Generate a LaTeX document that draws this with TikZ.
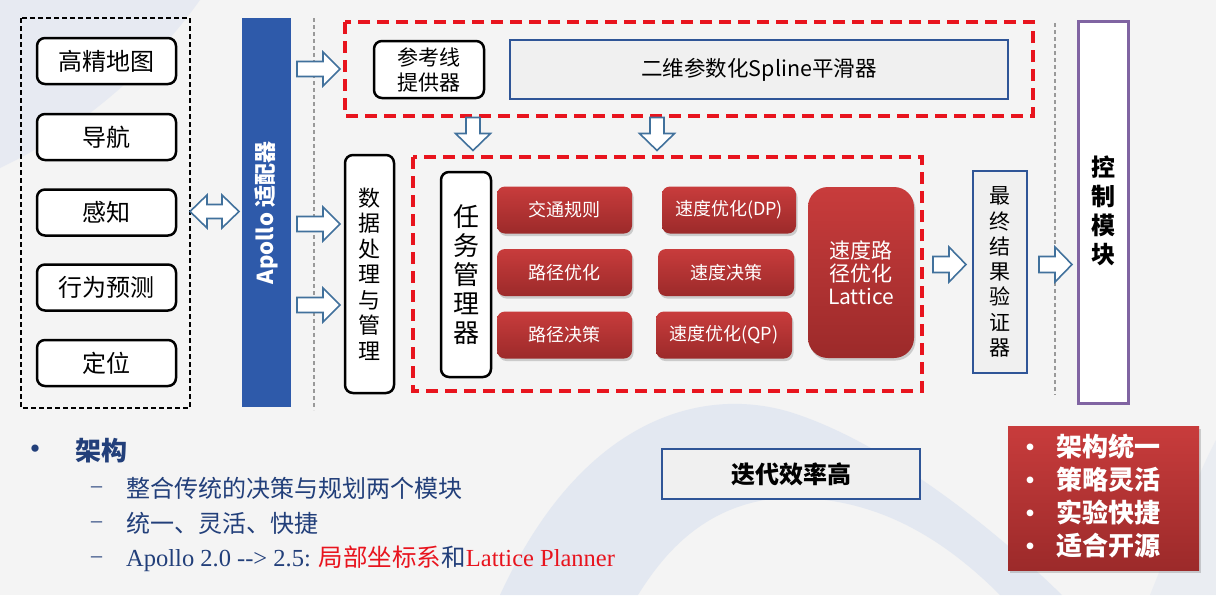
\documentclass[tikz,border=0pt]{standalone}
\usepackage{fontspec}
\usetikzlibrary{shadows,calc}
\newfontfamily\cjk{Noto Sans CJK SC}
\newfontfamily\tnr{Liberation Serif}
\definecolor{bgc}{HTML}{F4F4F4}
\definecolor{bgblue}{HTML}{D8E0F0}
\definecolor{apblue}{HTML}{2E5AAA}
\definecolor{arrblue}{HTML}{41719C}
\definecolor{boxblue}{HTML}{2F5597}
\definecolor{dashred}{HTML}{E8141E}
\definecolor{redtop}{HTML}{C83C3C}
\definecolor{redbot}{HTML}{9C2A2A}
\definecolor{ctrlpurple}{HTML}{8064A2}
\definecolor{txtblue}{HTML}{223F7A}
\definecolor{txtred}{HTML}{E8141E}
\definecolor{lightfill}{HTML}{F0F0F0}
\tikzset{
  blackbox/.style={draw=black, line width=2.5pt, rounded corners=8pt, fill=white, inner sep=0pt, align=center},
  bluebox/.style={draw=boxblue, line width=1.5pt, fill=lightfill, inner sep=0pt, align=center},
  redbox/.style={rounded corners=8pt, top color=redtop, bottom color=redbot, draw=none,
     drop shadow={shadow xshift=1.5pt, shadow yshift=-2.5pt, opacity=.35}, text=white, inner sep=0pt, align=center,
     font=\cjk\fontsize{18}{23}\selectfont},
  reddash/.style={draw=dashred, line width=4pt, dash pattern=on 12pt off 7pt},
  greydash/.style={draw=gray!80, line width=1.3pt, dash pattern=on 4pt off 3pt},
  arrowline/.style={draw=arrblue, fill=white, line width=1.6pt, line join=miter},
}
% right-pointing block arrow: centre x, centre y, length, head width, shaft width, head length
\newcommand{\RArrow}[6]{%
  \draw[arrowline] (#1-#3/2,#2-#5/2) -- (#1+#3/2-#6,#2-#5/2) -- (#1+#3/2-#6,#2-#4/2) -- (#1+#3/2,#2)
     -- (#1+#3/2-#6,#2+#4/2) -- (#1+#3/2-#6,#2+#5/2) -- (#1-#3/2,#2+#5/2) -- cycle;}
% down-pointing block arrow
\newcommand{\DArrow}[6]{%
  \draw[arrowline] (#1-#5/2,#2-#3/2) -- (#1-#5/2,#2+#3/2-#6) -- (#1-#4/2,#2+#3/2-#6) -- (#1,#2+#3/2)
     -- (#1+#4/2,#2+#3/2-#6) -- (#1+#5/2,#2+#3/2-#6) -- (#1+#5/2,#2-#3/2) -- cycle;}
% double block arrow (left-right)
\newcommand{\LRArrow}[6]{%
  \draw[arrowline] (#1-#3/2,#2) -- (#1-#3/2+#6,#2-#4/2) -- (#1-#3/2+#6,#2-#5/2) -- (#1+#3/2-#6,#2-#5/2)
     -- (#1+#3/2-#6,#2-#4/2) -- (#1+#3/2,#2) -- (#1+#3/2-#6,#2+#4/2) -- (#1+#3/2-#6,#2+#5/2)
     -- (#1-#3/2+#6,#2+#5/2) -- (#1-#3/2+#6,#2+#4/2) -- cycle;}
\begin{document}
\begin{tikzpicture}[x=1pt,y=-1pt]
\useasboundingbox (0,0) rectangle (1216,595);
% background
\fill[bgc] (0,0) rectangle (1216,595);
\fill[bgblue, opacity=.45] (0,0) -- (200,0) .. controls (150,70) and (80,130) .. (0,168) -- cycle;
\fill[bgblue, opacity=.6] (500,595) .. controls (580,420) and (700,385) .. (790,412)
   .. controls (880,440) and (985,520) .. (1062,595) -- (1000,595)
   .. controls (930,525) and (860,495) .. (780,498) .. controls (700,505) and (660,560) .. (638,595) -- cycle;
\fill[bgblue, opacity=.35] (1150,595) .. controls (1180,520) and (1200,470) .. (1216,440) -- (1216,595) -- cycle;

% left group
\draw[black, line width=1.8pt, dash pattern=on 5pt off 3pt] (21,18) rectangle (190,408);
\begin{scope}[every node/.style={blackbox, minimum width=139pt, minimum height=46pt, font=\cjk\fontsize{24}{28}\selectfont}]
\node (map) at (106.5,61) {高精地图};
\node (nav) at (106.5,137) {导航};
\node (per) at (106.5,212.5) {感知};
\node (pred) at (106.5,287.5) {行为预测};
\node (loc) at (106.5,363) {定位};
\end{scope}

% apollo adapter
\node[fill=apblue, minimum width=49pt, minimum height=389pt, inner sep=0pt] (bar) at (266.5,212.5) {};
\node[rotate=90, text=white, font=\cjk\bfseries\fontsize{22}{26}\selectfont] (apollo) at (266.5,213) {Apollo 适配器};
\coordinate (dba) at (214.5,211.5);
\LRArrow{214.5}{211.5}{49}{33}{14}{17}

\draw[greydash] (314,18) -- (314,410);
\draw[greydash] (1055,23) -- (1055,395);

% arrows from adapter
\coordinate (a1) at (318.5,69);
\coordinate (a2) at (318.5,224);
\coordinate (a3) at (318.5,305);
\RArrow{318.5}{69}{43}{34}{15}{17}
\RArrow{318.5}{224}{43}{34}{15}{17}
\RArrow{318.5}{305}{43}{34}{15}{17}

% top red group
\draw[reddash] (345,22) rectangle (1033,116);
\node[blackbox, minimum width=110pt, minimum height=57pt, font=\cjk\fontsize{21}{25}\selectfont] (ref) at (429,69.5) {参考线\\提供器};
\node[bluebox, minimum width=498pt, minimum height=59pt, font=\cjk\fontsize{21.5}{25}\selectfont] (spline) at (759,69.5) {二维参数化Spline平滑器};

\coordinate (d1) at (473,134);
\coordinate (d2) at (657,134);
\DArrow{473}{134}{33}{35}{14}{17}
\DArrow{657}{134}{33}{35}{14}{17}

% data processing
\node[blackbox, minimum width=49pt, minimum height=238pt, font=\cjk\fontsize{22}{25.5}\selectfont] (data) at (369.5,274) {数\\据\\处\\理\\与\\管\\理};

% middle red group
\draw[reddash] (413,157) rectangle (922,391);
\node[blackbox, minimum width=50pt, minimum height=205pt, font=\cjk\fontsize{26}{29}\selectfont] (task) at (466,274.5) {任\\务\\管\\理\\器};

\node[redbox, minimum width=135pt, minimum height=47pt] (r1) at (564.5,210) {交通规则};
\node[redbox, minimum width=135pt, minimum height=47pt] (r2) at (564.5,272.5) {路径优化};
\node[redbox, minimum width=135pt, minimum height=47pt] (r3) at (564.5,335) {路径决策};
\node[redbox, minimum width=134pt, minimum height=47pt] (s1) at (729,210) {速度优化(DP)};
\node[redbox, minimum width=136pt, minimum height=47pt] (s2) at (726,272.5) {速度决策};
\node[redbox, minimum width=136pt, minimum height=47pt] (s3) at (724,335) {速度优化(QP)};
\node[redbox, rounded corners=20pt, minimum width=106pt, minimum height=171pt, font=\cjk\fontsize{21}{23}\selectfont] (lat) at (861,272.5) {速度路\\径优化\\Lattice};

\coordinate (a4) at (949.5,264.5);
\RArrow{949.5}{264.5}{33}{35}{16}{17}
\node[bluebox, minimum width=54pt, minimum height=202pt, font=\cjk\fontsize{21}{25.3}\selectfont] (ver) at (1000,272) {最\\终\\结\\果\\验\\证\\器};
\coordinate (a5) at (1055.5,264.5);
\RArrow{1055.5}{264.5}{33}{35}{16}{17}

% control module
\node[draw=ctrlpurple, line width=3.5pt, fill=white, minimum width=50pt, minimum height=382pt, inner sep=0pt] (ctrl) at (1103.5,212.5) {};
\node[align=center, font=\cjk\bfseries\fontsize{24}{29}\selectfont] (ctrltxt) at (1103.5,211) {控\\制\\模\\块};

% bottom list
\node[inner sep=0pt, text=txtblue, font=\cjk\bfseries\fontsize{26}{30}\selectfont] (b0) at (35,452) {•};
\node[anchor=west, inner sep=0pt, text=txtblue, font=\cjk\bfseries\fontsize{26}{30}\selectfont] (b0t) at (75,451) {架构};
\node[anchor=west, inner sep=0pt, text=txtblue, font=\tnr\fontsize{22}{26}\selectfont] (d1m) at (91,490) {–};
\node[anchor=west, inner sep=0pt, text=txtblue, font=\tnr\fontsize{22}{26}\selectfont] (d2m) at (91,525) {–};
\node[anchor=west, inner sep=0pt, text=txtblue, font=\tnr\fontsize{22}{26}\selectfont] (d3m) at (91,560) {–};
\node[anchor=west, inner sep=0pt, text=txtblue, font=\cjk\fontsize{24}{28}\selectfont] (l1) at (126,488) {整合传统的决策与规划两个模块};
\node[anchor=west, inner sep=0pt, text=txtblue, font=\cjk\fontsize{24}{28}\selectfont] (l2) at (126,523) {统一、灵活、快捷};
\node[anchor=base west, inner sep=0pt, text=txtblue, font=\fontsize{24.5}{28}\selectfont] (l3) at (126,566)
  {\tnr Apollo 2.0 -\kern0pt-\kern0pt> 2.5: \textcolor{txtred}{\cjk 局部坐标系}{\cjk 和}\textcolor{txtred}{\tnr Lattice Planner}};

% iteration box
\node[bluebox, draw=boxblue, line width=1.2pt, minimum width=258pt, minimum height=50pt, font=\cjk\bfseries\fontsize{24}{28}\selectfont] (iter) at (791,474) {迭代效率高};

% red summary box
\node[top color=redtop, bottom color=redbot, minimum width=191pt, minimum height=144pt, inner sep=0pt,
  drop shadow={shadow xshift=2pt, shadow yshift=-3pt, opacity=.35}] (sum) at (1103.5,498) {};
\node[text=white, inner sep=0pt, font=\cjk\bfseries\fontsize{26}{33}\selectfont, anchor=west] (sumtxt) at (1018,499.5)
  {\begin{tabular}{@{}l@{\hspace{14pt}}l@{}}
   {\fontsize{24}{33}\selectfont •} & 架构统一\\
   {\fontsize{24}{33}\selectfont •} & 策略灵活\\
   {\fontsize{24}{33}\selectfont •} & 实验快捷\\
   {\fontsize{24}{33}\selectfont •} & 适合开源
   \end{tabular}};
\end{tikzpicture}
\end{document}
